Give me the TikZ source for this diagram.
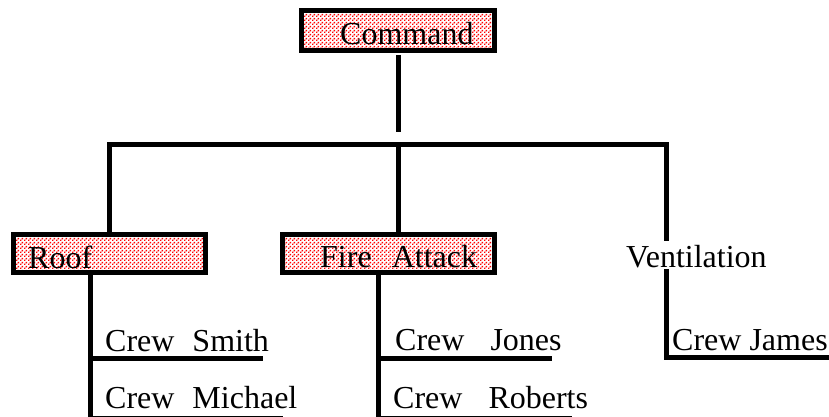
\documentclass[tikz,border=0pt]{standalone}
\usepackage{fontspec}
\setmainfont{Liberation Serif}
\usetikzlibrary{patterns}
\pgfdeclarepatternformonly{reddots}{\pgfpoint{0pt}{0pt}}{\pgfpoint{4pt}{4pt}}{\pgfpoint{4pt}{4pt}}{%
  \pgfpathrectangle{\pgfpoint{0pt}{0pt}}{\pgfpoint{1.8pt}{1.8pt}}%
  \pgfpathrectangle{\pgfpoint{2pt}{2pt}}{\pgfpoint{1.8pt}{1.8pt}}%
  \pgfusepath{fill}}
\begin{document}
\begin{tikzpicture}[x=1pt,y=-1pt,
  conn/.style={line width=5pt},
  box/.style={draw, line width=5pt, pattern=reddots, pattern color=red, inner sep=0pt},
  txt/.style={font=\fontsize{32pt}{38pt}\selectfont, inner sep=0pt, anchor=base west}]
\useasboundingbox (0,0) rectangle (829,417);
% boxes
\node[box, minimum width=193pt, minimum height=40pt] (cmd) at (398,30.5) {};
\node[txt] (cmdt) at (340,45) {Command};
\node[box, minimum width=192pt, minimum height=38pt] (roof) at (109.5,253.5) {};
\node[txt] (rooft) at (28,268) {Roof};
\node[box, minimum width=212pt, minimum height=38pt] (fire) at (388.5,253.5) {};
\node[txt] (firet) at (320,267) {Fire~~\kern4pt Attack};
\node[txt] (vent) at (626,267) {Ventilation};
% crews
\node[txt] (smith) at (105,351) {Crew~~\kern2pt Smith};
\node[txt] (michael) at (105,408) {Crew~~\kern2pt Michael};
\node[txt] (jones) at (395,350) {Crew~~~\kern2pt Jones};
\node[txt] (roberts) at (393,408) {Crew~~~\kern2pt Roberts};
\node[txt] (james) at (672,350) {Crew James};
% trunk coordinates
\coordinate (rx) at (90.5,0);
\coordinate (fx) at (378.5,0);
\coordinate (vx) at (666.5,0);
% connectors
\draw[conn] ([yshift=-2pt]cmd.south) -- (398,132);
\draw[conn] (roof.north) -- (109.5,144.5) -- (666.5,144.5) -- (666.5,241);
\draw[conn] (398,144.5) -- (fire.north -| cmd.south);
\draw[conn] (roof.south -| rx) -- (90.5,425);
\draw[conn] (90.5,358) -- (263,358);
\draw[conn] (90.5,418.5) -- (283,418.5);
\draw[conn] (fire.south -| fx) -- (378.5,425);
\draw[conn] (378.5,358) -- (552,358);
\draw[conn] (378.5,418.5) -- (572,418.5);
\draw[conn] (666.5,269) -- (666.5,357.5) -- (834,357.5);
\end{tikzpicture}
\end{document}
